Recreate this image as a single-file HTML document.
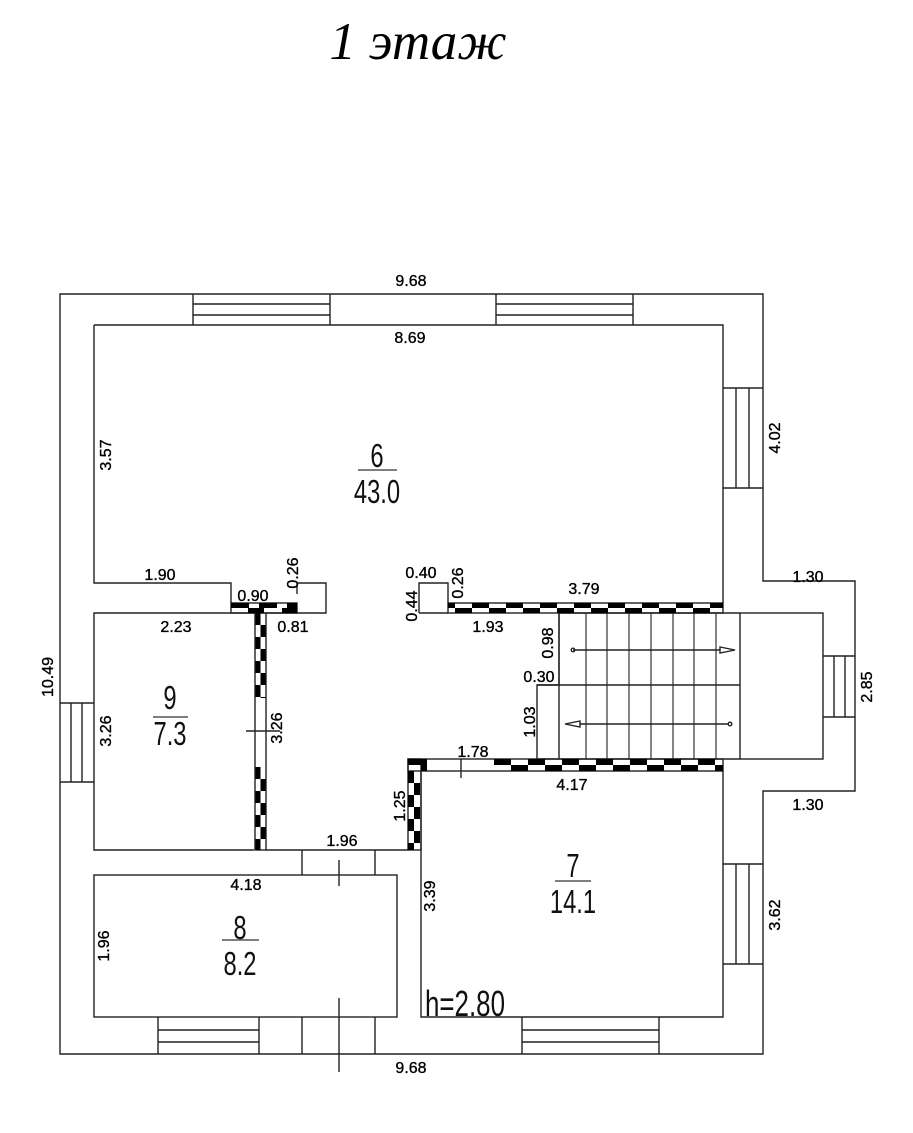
<!DOCTYPE html>
<html><head><meta charset="utf-8"><style>
html,body{margin:0;padding:0;background:#fff;}
svg{display:block;}
.d{font-family:"Liberation Sans",Arial,sans-serif;font-size:16px;fill:#000;stroke:#000;stroke-width:0.35;}
.n{font-family:"Liberation Sans",Arial,sans-serif;font-size:33px;fill:#111;}
</style></head><body>
<svg width="913" height="1133" viewBox="0 0 913 1133" xmlns="http://www.w3.org/2000/svg">
<text x="418" y="59" text-anchor="middle" font-family="Liberation Serif,serif" font-style="italic" font-size="53">1 этаж</text>
<g fill="none" stroke="#222" stroke-width="1.4">
<path d="M60 294 H763 V581 H855 V791 H763 V1054 H60 Z"/>
<path d="M94 325 H723 V603"/>
<path d="M94 325 V583 H231 V603"/>
<path d="M297 583 H326 V613 H266"/>
<line x1="297" y1="583" x2="297" y2="594"/>
<path d="M419 613 V583 H448 V603"/>
<line x1="419" y1="613" x2="448" y2="613"/>
<path d="M254 613 H94 V850 H254"/>
<path d="M266 850 H408"/>
<rect x="94" y="875" width="303" height="142"/>
<path d="M421 772 V1017 H723 V771"/>
<rect x="740" y="613" width="83" height="146"/>
<line x1="559" y1="613" x2="740" y2="613"/>
<line x1="537" y1="759" x2="740" y2="759"/>
<path d="M559 613 V685 H537 V759"/>
<line x1="537" y1="685" x2="740" y2="685"/>
<line x1="559" y1="613" x2="559" y2="759"/>
<g stroke-width="1.1">
<line x1="586" y1="613" x2="586" y2="759"/><line x1="607" y1="613" x2="607" y2="759"/>
<line x1="629" y1="613" x2="629" y2="759"/><line x1="651" y1="613" x2="651" y2="759"/>
<line x1="673" y1="613" x2="673" y2="759"/><line x1="694" y1="613" x2="694" y2="759"/>
<line x1="716" y1="613" x2="716" y2="759"/>
</g>
<line x1="573" y1="650" x2="720" y2="650"/><circle cx="573" cy="650" r="1.8"/>
<path d="M720 647 L735 650 L720 653 Z"/>
<line x1="580" y1="724" x2="729" y2="724"/><circle cx="730" cy="724" r="1.8"/>
<path d="M580 721 L565 724 L580 727 Z"/>
<path d="M193 294 V325 M330 294 V325 M193 304 H330 M193 315 H330"/>
<path d="M496 294 V325 M633 294 V325 M496 304 H633 M496 315 H633"/>
<path d="M723 388 H763 M723 488 H763 M736 388 V488 M749 388 V488"/>
<path d="M723 864 H763 M723 964 H763 M736 864 V964 M749 864 V964"/>
<path d="M60 703 H94 M60 782 H94 M71 703 V782 M82 703 V782"/>
<path d="M823 656 H855 M823 717 H855 M834 656 V717 M845 656 V717"/>
<path d="M158 1017 V1054 M259 1017 V1054 M158 1030 H259 M158 1042 H259"/>
<path d="M522 1017 V1054 M659 1017 V1054 M522 1030 H659 M522 1042 H659"/>
<path d="M302 850 V875 M375 850 V875 M302 1017 V1054 M375 1017 V1054"/>
<path d="M339 860 V886 M339 998 V1072"/>
<path d="M246 731 H280 M461 759 V778"/>
<rect x="255" y="613" width="11" height="237"/>
<rect x="408" y="759" width="13" height="91"/>
<rect x="408" y="759" width="315" height="12"/>
<rect x="448" y="603" width="275" height="10"/>
<rect x="231" y="603" width="66" height="10"/>
</g>
<g fill="none" stroke="#000">
<line x1="258" y1="613" x2="258" y2="698" stroke-width="5" stroke-dasharray="12 12"/>
<line x1="263" y1="613" x2="263" y2="698" stroke-width="5" stroke-dasharray="12 12" stroke-dashoffset="12"/>
<line x1="258" y1="767" x2="258" y2="850" stroke-width="5" stroke-dasharray="12 12"/>
<line x1="263" y1="767" x2="263" y2="850" stroke-width="5" stroke-dasharray="12 12" stroke-dashoffset="12"/>
<line x1="411" y1="771" x2="411" y2="850" stroke-width="6" stroke-dasharray="12 12"/>
<line x1="417" y1="771" x2="417" y2="850" stroke-width="6" stroke-dasharray="12 12" stroke-dashoffset="12"/>
<line x1="408" y1="762" x2="427" y2="762" stroke-width="6"/>
<line x1="421" y1="768" x2="427" y2="768" stroke-width="6"/>
<line x1="494" y1="762" x2="723" y2="762" stroke-width="6" stroke-dasharray="17 17"/>
<line x1="494" y1="768" x2="723" y2="768" stroke-width="6" stroke-dasharray="17 17" stroke-dashoffset="17"/>
<line x1="448" y1="605.5" x2="723" y2="605.5" stroke-width="5" stroke-dasharray="17 17" stroke-dashoffset="10"/>
<line x1="448" y1="610.5" x2="723" y2="610.5" stroke-width="5" stroke-dasharray="17 17" stroke-dashoffset="27"/>
<line x1="231" y1="605.5" x2="297" y2="605.5" stroke-width="5" stroke-dasharray="18 10"/>
<line x1="248" y1="610.5" x2="297" y2="610.5" stroke-width="5" stroke-dasharray="16 18 15"/>
</g>
<g class="d">
<text x="411" y="286" text-anchor="middle">9.68</text>
<text x="410" y="343" text-anchor="middle">8.69</text>
<text x="411" y="1073" text-anchor="middle">9.68</text>
<text x="160" y="580" text-anchor="middle">1.90</text>
<text x="253" y="601" text-anchor="middle">0.90</text>
<text x="293" y="632" text-anchor="middle">0.81</text>
<text x="176" y="632" text-anchor="middle">2.23</text>
<text x="421" y="578" text-anchor="middle">0.40</text>
<text x="488" y="632" text-anchor="middle">1.93</text>
<text x="584" y="594" text-anchor="middle">3.79</text>
<text x="539" y="682" text-anchor="middle">0.30</text>
<text x="473" y="757" text-anchor="middle">1.78</text>
<text x="572" y="790" text-anchor="middle">4.17</text>
<text x="342" y="846" text-anchor="middle">1.96</text>
<text x="246" y="890" text-anchor="middle">4.18</text>
<text x="808" y="582" text-anchor="middle">1.30</text>
<text x="808" y="810" text-anchor="middle">1.30</text>
<text transform="translate(106,455) rotate(-90)" text-anchor="middle" dy="5">3.57</text>
<text transform="translate(48,677) rotate(-90)" text-anchor="middle" dy="5">10.49</text>
<text transform="translate(106,731) rotate(-90)" text-anchor="middle" dy="5">3.26</text>
<text transform="translate(277,728) rotate(-90)" text-anchor="middle" dy="5">3.26</text>
<text transform="translate(293,573) rotate(-90)" text-anchor="middle" dy="5">0.26</text>
<text transform="translate(458,583) rotate(-90)" text-anchor="middle" dy="5">0.26</text>
<text transform="translate(412,606) rotate(-90)" text-anchor="middle" dy="5">0.44</text>
<text transform="translate(548,643) rotate(-90)" text-anchor="middle" dy="5">0.98</text>
<text transform="translate(530,722) rotate(-90)" text-anchor="middle" dy="5">1.03</text>
<text transform="translate(400,806) rotate(-90)" text-anchor="middle" dy="5">1.25</text>
<text transform="translate(430,896) rotate(-90)" text-anchor="middle" dy="5">3.39</text>
<text transform="translate(104,946) rotate(-90)" text-anchor="middle" dy="5">1.96</text>
<text transform="translate(775,438) rotate(-90)" text-anchor="middle" dy="5">4.02</text>
<text transform="translate(867,687) rotate(-90)" text-anchor="middle" dy="5">2.85</text>
<text transform="translate(775,915) rotate(-90)" text-anchor="middle" dy="5">3.62</text>
</g>
<g class="n" text-anchor="middle">
<g transform="translate(377,0) scale(0.72,1)"><text x="0" y="467">6</text><text x="0" y="503">43.0</text></g>
<g transform="translate(170,0) scale(0.72,1)"><text x="0" y="709">9</text><text x="0" y="745">7.3</text></g>
<g transform="translate(240,0) scale(0.72,1)"><text x="0" y="939">8</text><text x="0" y="975">8.2</text></g>
<g transform="translate(573,0) scale(0.72,1)"><text x="0" y="877">7</text><text x="0" y="913">14.1</text></g>
<g transform="translate(425,0) scale(0.72,1)"><text x="0" y="1016" text-anchor="start" font-size="36">h=2.80</text></g>
</g>
<g stroke="#333" stroke-width="1.3">
<line x1="358" y1="470" x2="397" y2="470"/>
<line x1="153" y1="717" x2="188" y2="717"/>
<line x1="222" y1="940" x2="259" y2="940"/>
<line x1="555" y1="881" x2="591" y2="881"/>
</g>
</svg>
</body></html>
